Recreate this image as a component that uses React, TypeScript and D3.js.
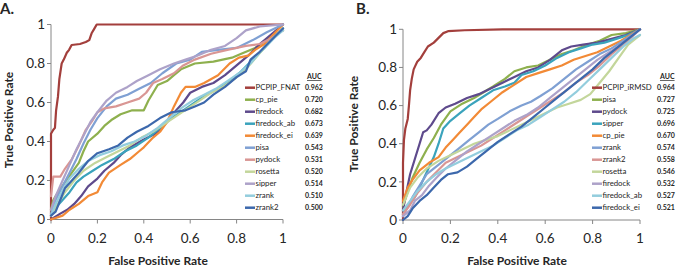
import React from "react";
import * as d3 from "d3";

type Pt = [number, number];

const tickValues = [0, 0.2, 0.4, 0.6, 0.8, 1];
const tickLabels = ["0", "0.2", "0.4", "0.6", "0.8", "1"];

const seriesColors = ["#A33F3C", "#8EB04E", "#5E4A8C", "#3AA3BC", "#F28A36", "#7FA0D3", "#D99694", "#C3D69B", "#ADA2C9", "#93CDDD", "#3C68AC"];

// Panel A
const namesA = ["PCPIP_FNAT", "cp_pie", "firedock", "firedock_ab", "firedock_ei", "pisa", "pydock", "rosetta", "sipper", "zrank", "zrank2"];
const aucA = ["0.962", "0.720", "0.682", "0.673", "0.639", "0.543", "0.531", "0.520", "0.514", "0.510", "0.500"];

const A_pcpip: Pt[] = [[0,0],[0,0.44],[0.01,0.46],[0.017,0.47],[0.022,0.56],[0.03,0.63],[0.036,0.72],[0.046,0.8],[0.055,0.82],[0.068,0.855],[0.078,0.87],[0.089,0.895],[0.125,0.9],[0.15,0.91],[0.165,0.92],[0.175,0.955],[0.185,0.975],[0.197,1],[1,1]];
const A_cp_pie: Pt[] = [[0,0.05],[0.01,0.1],[0.03,0.14],[0.06,0.19],[0.09,0.24],[0.12,0.29],[0.14,0.35],[0.16,0.4],[0.2,0.44],[0.23,0.48],[0.26,0.51],[0.3,0.54],[0.35,0.56],[0.4,0.56],[0.42,0.61],[0.44,0.65],[0.46,0.69],[0.5,0.71],[0.53,0.74],[0.56,0.77],[0.62,0.8],[0.7,0.81],[0.78,0.83],[0.82,0.85],[0.88,0.88],[0.94,0.93],[1,0.97]];
const A_firedock: Pt[] = [[0,0],[0.04,0.03],[0.07,0.05],[0.1,0.08],[0.13,0.12],[0.16,0.17],[0.2,0.21],[0.23,0.25],[0.27,0.29],[0.3,0.33],[0.34,0.37],[0.4,0.41],[0.45,0.44],[0.5,0.5],[0.54,0.56],[0.57,0.6],[0.6,0.65],[0.65,0.68],[0.7,0.7],[0.75,0.74],[0.8,0.79],[0.85,0.84],[0.9,0.9],[0.95,0.95],[1,1]];
const A_firedock_ab: Pt[] = [[0,0.02],[0.02,0.06],[0.05,0.1],[0.08,0.14],[0.11,0.19],[0.14,0.22],[0.18,0.25],[0.22,0.28],[0.27,0.31],[0.32,0.35],[0.37,0.38],[0.42,0.42],[0.47,0.47],[0.52,0.52],[0.57,0.56],[0.62,0.6],[0.67,0.64],[0.72,0.67],[0.77,0.71],[0.82,0.76],[0.87,0.82],[0.92,0.88],[0.96,0.93],[1,0.98]];
const A_firedock_ei: Pt[] = [[0,0],[0.05,0.02],[0.08,0.05],[0.12,0.08],[0.16,0.12],[0.2,0.14],[0.22,0.19],[0.25,0.24],[0.3,0.28],[0.34,0.31],[0.38,0.35],[0.4,0.37],[0.44,0.42],[0.47,0.45],[0.5,0.5],[0.53,0.58],[0.56,0.65],[0.58,0.68],[0.62,0.68],[0.66,0.7],[0.72,0.74],[0.77,0.8],[0.81,0.83],[0.85,0.84],[0.88,0.87],[0.92,0.9],[1,1]];
const A_pisa: Pt[] = [[0,0.03],[0.02,0.1],[0.05,0.17],[0.08,0.24],[0.11,0.31],[0.14,0.39],[0.17,0.46],[0.2,0.52],[0.24,0.58],[0.28,0.62],[0.33,0.64],[0.38,0.67],[0.43,0.7],[0.48,0.75],[0.54,0.8],[0.6,0.82],[0.65,0.86],[0.72,0.87],[0.8,0.88],[0.87,0.92],[0.93,0.96],[1,1]];
const A_pydock: Pt[] = [[0,0.12],[0.01,0.22],[0.04,0.22],[0.06,0.26],[0.09,0.31],[0.12,0.38],[0.15,0.46],[0.18,0.51],[0.2,0.55],[0.23,0.57],[0.28,0.58],[0.33,0.6],[0.38,0.62],[0.41,0.65],[0.44,0.7],[0.48,0.72],[0.53,0.75],[0.57,0.79],[0.62,0.82],[0.69,0.85],[0.76,0.87],[0.84,0.89],[0.9,0.9],[0.95,0.93],[1,0.97]];
const A_rosetta: Pt[] = [[0,0.02],[0.03,0.08],[0.06,0.14],[0.1,0.2],[0.14,0.25],[0.19,0.29],[0.24,0.32],[0.29,0.35],[0.34,0.38],[0.39,0.42],[0.44,0.45],[0.49,0.49],[0.54,0.53],[0.59,0.57],[0.64,0.61],[0.69,0.65],[0.74,0.68],[0.79,0.72],[0.84,0.77],[0.89,0.84],[0.94,0.91],[1,0.98]];
const A_sipper: Pt[] = [[0,0.05],[0.02,0.12],[0.05,0.2],[0.08,0.28],[0.11,0.36],[0.14,0.43],[0.17,0.5],[0.2,0.55],[0.24,0.61],[0.28,0.65],[0.33,0.68],[0.37,0.71],[0.42,0.74],[0.47,0.77],[0.53,0.8],[0.58,0.82],[0.63,0.84],[0.69,0.87],[0.75,0.89],[0.8,0.93],[0.84,0.97],[0.9,0.99],[1,1]];
const A_zrank: Pt[] = [[0,0.02],[0.02,0.08],[0.05,0.15],[0.08,0.21],[0.12,0.26],[0.16,0.3],[0.21,0.33],[0.26,0.35],[0.31,0.38],[0.36,0.4],[0.41,0.43],[0.46,0.47],[0.51,0.52],[0.56,0.57],[0.61,0.61],[0.66,0.64],[0.71,0.67],[0.76,0.71],[0.81,0.75],[0.86,0.8],[0.91,0.87],[0.96,0.93],[1,0.97]];
const A_zrank2: Pt[] = [[0,0.02],[0.02,0.04],[0.04,0.1],[0.06,0.16],[0.09,0.2],[0.12,0.24],[0.16,0.3],[0.2,0.34],[0.25,0.36],[0.29,0.38],[0.33,0.42],[0.37,0.45],[0.42,0.48],[0.47,0.52],[0.52,0.55],[0.58,0.56],[0.62,0.58],[0.66,0.6],[0.7,0.64],[0.75,0.68],[0.8,0.73],[0.84,0.76],[0.86,0.82],[0.9,0.86],[0.95,0.92],[1,0.98]];

// Panel B
const namesB = ["PCPIP_iRMSD", "pisa", "pydock", "sipper", "cp_pie", "zrank", "zrank2", "rosetta", "firedock", "firedock_ab", "firedock_ei"];
const aucB = ["0.964", "0.727", "0.725", "0.696", "0.670", "0.574", "0.558", "0.546", "0.532", "0.527", "0.521"];

const B_pcpip: Pt[] = [[0,0],[0,0.3],[0.004,0.42],[0.01,0.48],[0.02,0.53],[0.025,0.6],[0.03,0.68],[0.037,0.74],[0.045,0.79],[0.06,0.83],[0.075,0.85],[0.09,0.88],[0.105,0.91],[0.13,0.93],[0.15,0.955],[0.17,0.98],[0.19,0.99],[0.26,0.995],[0.42,1],[1,1]];
const B_pisa: Pt[] = [[0,0.07],[0.02,0.15],[0.04,0.22],[0.07,0.3],[0.1,0.37],[0.13,0.43],[0.16,0.5],[0.2,0.57],[0.25,0.61],[0.3,0.64],[0.34,0.67],[0.38,0.7],[0.43,0.74],[0.47,0.78],[0.52,0.8],[0.57,0.81],[0.62,0.84],[0.67,0.87],[0.72,0.89],[0.78,0.92],[0.83,0.94],[0.88,0.97],[0.94,0.98],[1,1]];
const B_pydock: Pt[] = [[0,0.05],[0.01,0.12],[0.03,0.24],[0.05,0.32],[0.07,0.4],[0.085,0.46],[0.1,0.47],[0.12,0.5],[0.15,0.56],[0.18,0.59],[0.22,0.61],[0.27,0.64],[0.32,0.66],[0.37,0.69],[0.42,0.72],[0.47,0.75],[0.52,0.78],[0.57,0.8],[0.62,0.84],[0.67,0.89],[0.71,0.91],[0.76,0.92],[0.82,0.93],[0.88,0.95],[0.94,0.97],[1,1]];
const B_sipper: Pt[] = [[0,0.03],[0.02,0.07],[0.05,0.12],[0.07,0.17],[0.1,0.25],[0.13,0.33],[0.15,0.4],[0.17,0.48],[0.2,0.52],[0.24,0.56],[0.28,0.6],[0.33,0.64],[0.38,0.68],[0.43,0.7],[0.47,0.72],[0.5,0.76],[0.55,0.78],[0.6,0.81],[0.65,0.85],[0.7,0.88],[0.75,0.9],[0.8,0.92],[0.85,0.93],[0.9,0.95],[0.95,0.97],[1,1]];
const B_cp_pie: Pt[] = [[0,0.1],[0.02,0.17],[0.04,0.21],[0.07,0.26],[0.11,0.3],[0.15,0.33],[0.18,0.38],[0.21,0.42],[0.24,0.46],[0.27,0.5],[0.3,0.54],[0.33,0.58],[0.37,0.62],[0.42,0.67],[0.47,0.71],[0.52,0.75],[0.57,0.77],[0.62,0.79],[0.67,0.81],[0.72,0.84],[0.77,0.86],[0.82,0.88],[0.87,0.91],[0.92,0.94],[0.96,0.97],[1,1]];
const B_zrank: Pt[] = [[0,0.02],[0.02,0.07],[0.04,0.12],[0.07,0.18],[0.1,0.24],[0.14,0.28],[0.19,0.33],[0.24,0.38],[0.28,0.42],[0.32,0.46],[0.36,0.5],[0.4,0.53],[0.45,0.57],[0.5,0.6],[0.54,0.62],[0.58,0.65],[0.63,0.69],[0.68,0.74],[0.73,0.79],[0.78,0.83],[0.83,0.87],[0.88,0.9],[0.93,0.94],[1,1]];
const B_zrank2: Pt[] = [[0,0.03],[0.03,0.08],[0.06,0.14],[0.1,0.2],[0.14,0.25],[0.18,0.3],[0.23,0.33],[0.28,0.36],[0.33,0.39],[0.38,0.43],[0.43,0.47],[0.48,0.51],[0.53,0.55],[0.58,0.59],[0.63,0.63],[0.68,0.67],[0.73,0.72],[0.78,0.76],[0.83,0.81],[0.88,0.87],[0.94,0.93],[1,1]];
const B_rosetta: Pt[] = [[0,0.08],[0.03,0.17],[0.06,0.22],[0.1,0.27],[0.15,0.31],[0.2,0.34],[0.25,0.37],[0.3,0.4],[0.35,0.42],[0.4,0.44],[0.45,0.47],[0.5,0.5],[0.55,0.53],[0.6,0.56],[0.65,0.59],[0.7,0.61],[0.75,0.63],[0.79,0.66],[0.83,0.72],[0.87,0.78],[0.91,0.85],[0.95,0.92],[1,0.97]];
const B_firedock: Pt[] = [[0,0.02],[0.03,0.05],[0.05,0.1],[0.08,0.13],[0.11,0.18],[0.14,0.22],[0.18,0.27],[0.22,0.31],[0.27,0.36],[0.32,0.4],[0.37,0.44],[0.42,0.48],[0.47,0.52],[0.52,0.55],[0.57,0.59],[0.62,0.64],[0.67,0.69],[0.72,0.74],[0.77,0.79],[0.82,0.84],[0.87,0.88],[0.92,0.92],[0.96,0.96],[1,1]];
const B_firedock_ab: Pt[] = [[0,0.05],[0.03,0.1],[0.06,0.15],[0.1,0.2],[0.14,0.24],[0.18,0.27],[0.23,0.3],[0.28,0.33],[0.33,0.36],[0.38,0.39],[0.43,0.43],[0.48,0.47],[0.53,0.5],[0.58,0.54],[0.63,0.58],[0.68,0.62],[0.73,0.67],[0.78,0.73],[0.83,0.79],[0.88,0.85],[0.93,0.91],[0.97,0.95],[1,0.97]];
const B_firedock_ei: Pt[] = [[0,0],[0.02,0.02],[0.04,0.06],[0.07,0.1],[0.1,0.13],[0.13,0.17],[0.16,0.21],[0.19,0.24],[0.23,0.25],[0.27,0.28],[0.31,0.32],[0.35,0.36],[0.4,0.41],[0.45,0.45],[0.5,0.49],[0.55,0.54],[0.6,0.59],[0.65,0.64],[0.7,0.69],[0.75,0.74],[0.8,0.79],[0.85,0.85],[0.9,0.9],[0.95,0.95],[1,1]];

const seriesA = [A_pcpip, A_cp_pie, A_firedock, A_firedock_ab, A_firedock_ei, A_pisa, A_pydock, A_rosetta, A_sipper, A_zrank, A_zrank2];
const seriesB = [B_pcpip, B_pisa, B_pydock, B_sipper, B_cp_pie, B_zrank, B_zrank2, B_rosetta, B_firedock, B_firedock_ab, B_firedock_ei];

const FONT = "Lato, 'Open Sans', sans-serif";
const AXIS = "#868686";
const TEXT = "#262626";

type PanelProps = {
  letter: string; letterX: number;
  x0: number; x1: number; yTop: number; yBot: number;
  yTitleX: number; yTitleY: number; xTitleX: number;
  legX: number; aucX: number; aucHeadX: number;
  names: string[]; aucs: string[]; series: Pt[][];
};

function Panel(p: PanelProps) {
  const x = d3.scaleLinear().domain([0, 1]).range([p.x0, p.x1]);
  const y = d3.scaleLinear().domain([0, 1]).range([p.yBot, p.yTop]);
  const line = d3.line<Pt>().x(d => x(d[0])).y(d => y(d[1])).curve(d3.curveLinear);
  const rowY = d3.scaleLinear().domain([0, 10]).range([87.7, 207.7]);
  return (
    <g>
      <text x={p.letterX} y={14} fontFamily={FONT} fontWeight={700} fontSize={15} fill={TEXT}>{p.letter}</text>
      <line x1={p.x0} x2={p.x0} y1={p.yTop} y2={p.yBot} stroke={AXIS} strokeWidth={1} />
      <line x1={p.x0} x2={p.x1} y1={p.yBot} y2={p.yBot} stroke={AXIS} strokeWidth={1} />
      {tickValues.map((t, i) => (
        <g key={"t" + i}>
          <line x1={p.x0 - 4} x2={p.x0} y1={y(t)} y2={y(t)} stroke={AXIS} />
          <line x1={x(t)} x2={x(t)} y1={p.yBot} y2={p.yBot + 4} stroke={AXIS} />
          <text x={p.x0 - 6} y={y(t)} dy="0.35em" textAnchor="end" fontFamily={FONT} fontSize={13.5} fill={TEXT}>{tickLabels[i]}</text>
          <text x={x(t)} y={243} textAnchor="middle" fontFamily={FONT} fontSize={13.5} fill={TEXT}>{tickLabels[i]}</text>
        </g>
      ))}
      <text transform={`translate(${p.yTitleX},${p.yTitleY}) rotate(-90)`} textAnchor="middle" dy="0.35em" fontFamily={FONT} fontWeight={700} fontSize={12} fill={TEXT}>True Positive Rate</text>
      <text x={p.xTitleX} y={265} textAnchor="middle" fontFamily={FONT} fontWeight={700} fontSize={12} fill={TEXT}>False Positive Rate</text>
      {p.series.map((s, i) => (
        <path key={"s" + i} d={line(s) || ""} fill="none" stroke={seriesColors[i]} strokeWidth={2.2} strokeLinejoin="round" strokeLinecap="round" />
      ))}
      <text x={p.aucHeadX} y={79} fontFamily={FONT} fontWeight={700} fontSize={7} fill={TEXT} textDecoration="underline">AUC</text>
      {p.names.map((n, i) => (
        <g key={"l" + i}>
          <line x1={p.legX} x2={p.legX + 10} y1={rowY(i)} y2={rowY(i)} stroke={seriesColors[i]} strokeWidth={2.5} />
          <text x={p.legX + 10.5} y={rowY(i)} dy="0.35em" fontFamily={FONT} fontSize={7.8} fill={TEXT}>{n}</text>
          <text x={p.aucX} y={rowY(i)} dy="0.35em" fontFamily={FONT} fontWeight={700} fontSize={7} fill={TEXT}>{p.aucs[i]}</text>
        </g>
      ))}
    </g>
  );
}

export default function App() {
  return (
    <svg width={676} height={267} style={{ position: "absolute", left: 0, top: 0, display: "block", background: "#fff" }}>
      <rect width={676} height={267} fill="#fff" />
      <Panel letter="A." letterX={0} x0={51} x1={283} yTop={24.5} yBot={219.5}
        yTitleX={8.5} yTitleY={120} xTitleX={158}
        legX={245} aucX={305} aucHeadX={307}
        names={namesA} aucs={aucA} series={seriesA} />
      <Panel letter="B." letterX={356} x0={403} x1={640} yTop={29.3} yBot={220}
        yTitleX={354} yTitleY={124} xTitleX={517}
        legX={592} aucX={657} aucHeadX={660}
        names={namesB} aucs={aucB} series={seriesB} />
    </svg>
  );
}
